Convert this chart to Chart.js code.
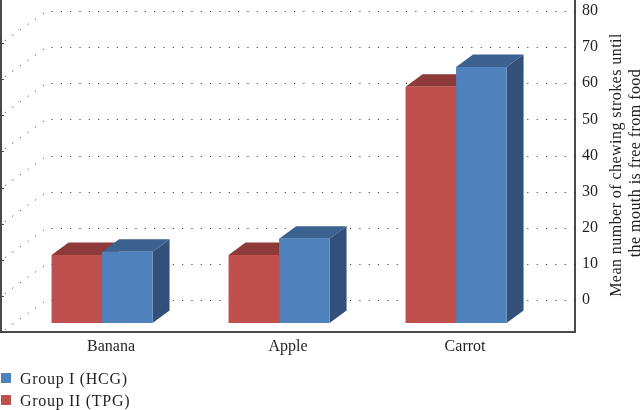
<!DOCTYPE html>
<html>
<head>
<meta charset="utf-8">
<style>html,body{margin:0;padding:0;background:#fff}canvas{display:block}</style>
<script src="https://cdn.jsdelivr.net/npm/chart.js@4"></script>
</head>
<body>
<canvas id="chart" width="643" height="410"></canvas>
<script>
const categories = ["Banana", "Apple", "Carrot"];
const groupOneValues = [19.7, 23.3, 70.9];
const groupTwoValues = [18.8, 18.8, 65.4];
const seriesNames = ["Group I (HCG)", "Group II (TPG)"];
const valueTicks = [0, 10, 20, 30, 40, 50, 60, 70, 80];
const axisTitleLines = ["Mean number of chewing strokes until", "the mouth is free from food"];

const FONT = '"Liberation Serif", serif';
const INK = "#231f20";
const FRAME = "#4a4a4a";
const faces = {
  red: { front: "#C0504D", top: "#8E3A38", side: "#8E3A38" },
  blue: { front: "#4F81BD", top: "#3C6291", side: "#325079" }
};
const BAR_DEPTH = { dx: 17, dy: 12.5 };
const WALL_DEPTH = { dx: 45, dy: 32 };

// Back wall gridlines, the receding floor and wall lines, and the frame.
const wallPlugin = {
  id: "wall",
  beforeDatasetsDraw(chart) {
    const { ctx, chartArea: a, scales: { y } } = chart;
    ctx.save();
    ctx.strokeStyle = "#222";
    ctx.lineWidth = 1;
    ctx.setLineDash([1, 8.33]);
    valueTicks.forEach(v => {
      const py = Math.round(y.getPixelForValue(v)) + 0.5;
      ctx.beginPath();
      ctx.moveTo(a.right, py);
      ctx.lineTo(a.left + WALL_DEPTH.dx, py);
      ctx.lineTo(a.left, py + WALL_DEPTH.dy);
      ctx.stroke();
    });
    ctx.setLineDash([]);
    ctx.strokeStyle = FRAME;
    ctx.lineWidth = 2;
    ctx.beginPath();
    ctx.moveTo(a.left, a.top);
    ctx.lineTo(a.left, a.bottom);
    ctx.stroke();
    ctx.lineWidth = 1;
    valueTicks.forEach(v => {
      const py = Math.round(y.getPixelForValue(v)) + WALL_DEPTH.dy + 0.5;
      if (py >= a.bottom) return;
      ctx.beginPath();
      ctx.moveTo(a.left, py);
      ctx.lineTo(a.left + 3, py);
      ctx.stroke();
    });
    ctx.restore();
  }
};

// Top and side faces of every bar, extruded from the element geometry.
const extrusionPlugin = {
  id: "extrusion",
  beforeDatasetsDraw(chart) {
    const { ctx } = chart;
    chart.data.datasets.forEach((ds, i) => {
      const tone = ds.tone;
      chart.getDatasetMeta(i).data.forEach(bar => {
        const l = bar.x - bar.width / 2, r = bar.x + bar.width / 2;
        const t = bar.y, b = bar.base;
        const { dx, dy } = BAR_DEPTH;
        ctx.fillStyle = tone.top;
        ctx.beginPath();
        ctx.moveTo(l, t);
        ctx.lineTo(l + dx, t - dy);
        ctx.lineTo(r + dx, t - dy);
        ctx.lineTo(r, t);
        ctx.closePath();
        ctx.fill();
        ctx.fillStyle = tone.side;
        ctx.beginPath();
        ctx.moveTo(r, t);
        ctx.lineTo(r + dx, t - dy);
        ctx.lineTo(r + dx, b - dy);
        ctx.lineTo(r, b);
        ctx.closePath();
        ctx.fill();
      });
    });
  }
};

// The value axis title reads bottom to top on the right of the axis.
const axisTitlePlugin = {
  id: "axisTitle",
  afterDraw(chart) {
    const { ctx } = chart;
    ctx.save();
    ctx.fillStyle = INK;
    ctx.font = "16px " + FONT;
    ctx.letterSpacing = "0.45px";
    ctx.textAlign = "center";
    ctx.textBaseline = "middle";
    axisTitleLines.forEach((line, i) => {
      ctx.save();
      ctx.translate(617 + i * 19, 165 - i * 2);
      ctx.rotate(-Math.PI / 2);
      ctx.fillText(line, 0, 0);
      ctx.restore();
    });
    ctx.restore();
  }
};

// Stacked key in the lower left corner, listing the last series first.
const stackedKeyPlugin = {
  id: "stackedKey",
  afterDraw(chart) {
    const { ctx } = chart;
    ctx.save();
    ctx.font = "16px " + FONT;
    ctx.letterSpacing = "0.7px";
    ctx.textAlign = "left";
    ctx.textBaseline = "middle";
    [...chart.data.datasets].reverse().forEach((ds, i) => {
      const cy = 378 + i * 22;
      ctx.fillStyle = ds.backgroundColor;
      ctx.fillRect(1, cy - 5, 10, 10);
      ctx.fillStyle = INK;
      ctx.fillText(ds.label, 20, cy + 1.5);
    });
    ctx.restore();
  }
};

const pointsFrom = values => values.map((v, i) => ({ x: i, y: v }));

const canvas = document.getElementById("chart");
canvas.getContext("2d").letterSpacing = "0.5px";

new Chart(canvas, {
  type: "bar",
  data: {
    datasets: [
      { label: seriesNames[1], data: pointsFrom(groupTwoValues), backgroundColor: faces.red.front, tone: faces.red, yAxisID: "yBars", barPercentage: 1, categoryPercentage: 0.5706 },
      { label: seriesNames[0], data: pointsFrom(groupOneValues), backgroundColor: faces.blue.front, tone: faces.blue, yAxisID: "yBars", barPercentage: 1, categoryPercentage: 0.5706 }
    ]
  },
  options: {
    responsive: false,
    animation: false,
    layout: { padding: { left: 1, right: 0, top: 0, bottom: 0 } },
    plugins: {
      tooltip: { enabled: false },
      legend: { display: false }
    },
    scales: {
      x: {
        type: "linear",
        offset: false,
        min: -0.571,
        max: 2.672,
        afterBuildTicks: s => { s.ticks = categories.map((_, i) => ({ value: i })); },
        afterFit: s => { s.height = 78; s.paddingLeft = 0; s.paddingRight = 0; },
        grid: { display: false, drawTicks: false },
        border: { display: true, color: FRAME, width: 2 },
        ticks: {
          autoSkip: false,
          maxRotation: 0,
          labelOffset: 9,
          padding: 5,
          color: INK,
          font: { family: FONT, size: 16 },
          callback: v => categories[v]
        }
      },
      y: {
        position: "right",
        min: -8.86,
        max: 83.05,
        afterBuildTicks: s => { s.ticks = valueTicks.map(v => ({ value: v })); },
        afterFit: s => { s.width = 68; s.paddingTop = 0; s.paddingBottom = 0; },
        grid: { display: false, drawTicks: false },
        border: { display: true, color: FRAME, width: 2 },
        ticks: { padding: 7, color: INK, font: { family: FONT, size: 16 } }
      },
      yBars: {
        display: false,
        min: -2.49,
        max: 89.42
      }
    }
  },
  plugins: [wallPlugin, extrusionPlugin, axisTitlePlugin, stackedKeyPlugin]
});
</script>
</body>
</html>
